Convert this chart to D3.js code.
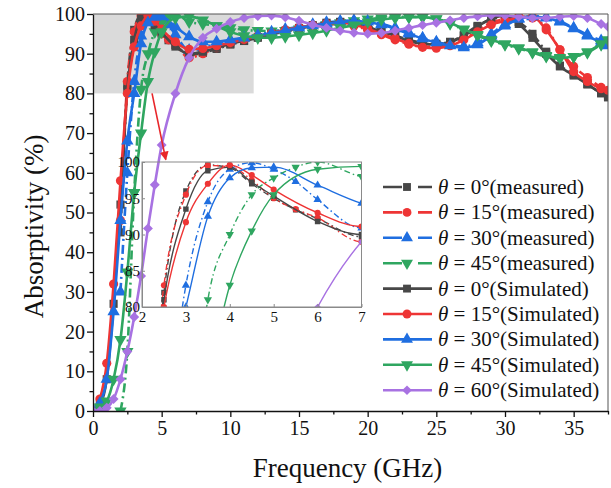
<!DOCTYPE html>
<html>
<head>
<meta charset="utf-8">
<script src="https://cdn.jsdelivr.net/npm/d3@7"></script>
<style>
  body { margin: 0; background: #fff; }
  svg { font-family: 'Liberation Serif', 'Times New Roman', serif; }
</style>
</head>
<body>
<svg id="chart" width="611" height="488"></svg>
<script>
// simulated curves, GHz
const freqSim = [0, 0.5, 1, 1.5, 2, 2.5, 3, 3.5, 4, 4.5, 5, 6, 7, 8, 9, 10, 11, 12, 13, 14, 15, 16, 17, 18, 19, 20,
  21, 22, 23, 24, 25, 26, 27, 28, 29, 30, 31, 32, 33, 34, 35, 36, 37, 37.5];
const sim0 = [0, 1.5, 8, 27, 52, 81, 93.5, 98.8, 99.3, 97.2, 95.3, 91.8, 90, 90.5, 91.5, 92.5, 93.3, 94.2, 95, 95.8, 96.5,
  97.2, 97.8, 98, 97.6, 96.8, 95.5, 94.5, 93.2, 92.5, 92.3, 92.8, 94.5, 96.8, 98.8, 99.6, 97.5, 94, 90, 86.8, 84.5, 82.3, 80, 79];
const sim15 = [0, 3, 12, 32, 58, 80, 91.7, 97, 99.6, 98.2, 96.2, 93, 91.1, 91.3, 92, 92.8, 93.6, 94.4, 95.2, 96, 96.6,
  97.2, 97.6, 97.8, 97.3, 96.3, 95, 93.8, 92.6, 91.6, 91.4, 92, 93.5, 95.5, 97.3, 98.3, 99, 99.3, 96, 91, 85.5, 83, 81.2, 80.8];
const sim30 = [0, 2, 8, 25, 48, 68, 80, 92.5, 97.8, 99.2, 99.3, 96.8, 94.3, 93, 93, 93.5, 94, 94.6, 95.2, 95.8, 96.5,
  97.1, 97.6, 98, 98.2, 98, 97.3, 96.3, 95, 93.8, 92.8, 92, 91.5, 92.3, 94.5, 97, 98.7, 99.3, 99, 98, 96.3, 94.5, 92.8, 92];
const sim45 = [0, 1, 2.5, 8, 18, 35, 55, 70, 83, 90.5, 95.5, 99, 99.4, 98.5, 97, 95.5, 94.5, 94, 94, 94.3, 94.7,
  95.2, 95.8, 96.5, 97.2, 98, 98.6, 99, 99.2, 99.2, 98.8, 97.8, 96.2, 94.8, 93.5, 92.5, 91.5, 90.5, 89.5, 89, 89.3, 90.5, 92.5, 93.5];
const sim60 = [0, 0, 0.8, 3, 8, 15, 23.7, 34, 46, 57, 67, 80, 89, 94, 96.3, 98, 99, 99.5, 99.6, 99.2, 98.3,
  97.3, 96.5, 95.8, 95.3, 95, 95.2, 95.8, 96.5, 97.2, 97.8, 98.4, 99, 99.4, 99.7, 99.6, 99.3, 99, 99, 99.3, 99.5, 99, 97.5, 96.8];

// measured curves, GHz
const freqMeas = [2, 2.5, 3, 3.5, 4, 4.5, 5, 5.5, 6, 7, 8, 9, 10, 11, 12, 13, 14, 15, 16, 17, 18, 19, 20,
  21, 22, 23, 24, 25, 26, 27, 28, 29, 30, 31, 32, 33, 34, 35, 36, 37, 37.5];
const meas0 = [45, 82, 96, 99.6, 99.2, 97, 95, 93.4, 92.2, 89.7, 90.2, 91.2, 92.3, 93.2, 94, 94.8, 95.6, 96.3, 97, 97.6, 98, 97.8, 97,
  95.8, 94.6, 93.5, 92.8, 92.5, 93, 94.8, 97, 98.7, 99.2, 98, 95, 90.5, 87, 84.8, 82.3, 80.2, 79.5];
const meas15 = [48, 83, 95.5, 99.5, 99.4, 97.5, 95, 93.5, 92.3, 89, 90, 91.5, 92.5, 93.5, 94.3, 95, 95.8, 96.4, 97, 97.3, 97.5, 97, 96,
  94.8, 93.5, 92.4, 91.8, 91.8, 92.5, 94, 96, 97.8, 98.8, 99.4, 99, 96.5, 91, 86.8, 84, 81.5, 80.5];
const meas30 = [30, 60, 83, 94.5, 99, 99.9, 99, 97.3, 94.8, 90.9, 91.5, 92.5, 93.3, 94, 94.8, 95.5, 96.2, 96.8, 97.4, 97.9, 98.2, 98.4, 98.2,
  97.5, 96.5, 95.3, 94, 93, 92.2, 91.8, 92.8, 95, 97.4, 98.9, 99.5, 99.2, 98.2, 96.5, 94.8, 93.3, 92.7];
const meas45 = [0, 15, 55, 81, 90, 95.5, 97.8, 99.3, 100, 98, 97.5, 97, 96.5, 96, 95.8, 95.7, 95.8, 96.2, 96.7, 97.3, 97.8, 98.3, 98.7,
  99, 99.2, 99.3, 99.2, 98.7, 97.6, 96, 94.5, 93.2, 92.3, 91.3, 90.3, 89.3, 88.8, 89.2, 90.3, 92.3, 93.3];

const xTicks = [0, 5, 10, 15, 20, 25, 30, 35];
const yTicks = [0, 10, 20, 30, 40, 50, 60, 70, 80, 90, 100];
const insetXTicks = [2, 3, 4, 5, 6, 7];
const insetYTicks = [80, 85, 90, 95, 100];

// shaded zoom window and arrow, in data units
const shadeX = [0, 11.7];
const shadeY = [80, 100];
const arrowFrom = [4.3, 80];
const arrowTo = [5.3, 63.3];

const colors = { a0: '#474747', a15: '#ee3535', a30: '#1f6ee0', a45: '#2fa660', a60: '#a872e2' };
const serif = "'Liberation Serif', 'Times New Roman', serif";

const series = [
  { label: '0°(measured)', freq: freqMeas, vals: meas0, color: colors.a0, shape: 'square', dashed: true },
  { label: '15°(measured)', freq: freqMeas, vals: meas15, color: colors.a15, shape: 'circle', dashed: true },
  { label: '30°(measured)', freq: freqMeas, vals: meas30, color: colors.a30, shape: 'up', dashed: true },
  { label: '45°(measured)', freq: freqMeas, vals: meas45, color: colors.a45, shape: 'down', dashed: true },
  { label: '0°(Simulated)', freq: freqSim, vals: sim0, color: colors.a0, shape: 'square', dashed: false },
  { label: '15°(Simulated)', freq: freqSim, vals: sim15, color: colors.a15, shape: 'circle', dashed: false },
  { label: '30°(Simulated)', freq: freqSim, vals: sim30, color: colors.a30, shape: 'up', dashed: false },
  { label: '45°(Simulated)', freq: freqSim, vals: sim45, color: colors.a45, shape: 'down', dashed: false },
  { label: '60°(Simulated)', freq: freqSim, vals: sim60, color: colors.a60, shape: 'diamond', dashed: false },
];

function symbolPath(shape, size) {
  if (shape === 'square') return d3.symbol(d3.symbolSquare, size)();
  if (shape === 'circle') return d3.symbol(d3.symbolCircle, size)();
  if (shape === 'up' || shape === 'down') return d3.symbol(d3.symbolTriangle, size)();
  return d3.symbol(d3.symbolSquare, size * 0.75)();
}
function symbolRot(shape) {
  if (shape === 'down') return ' rotate(180)';
  if (shape === 'diamond') return ' rotate(45)';
  return '';
}

const svg = d3.select('#chart');
const margin = { top: 14, right: 3, bottom: 77, left: 93 };
const width = 611 - margin.left - margin.right;
const height = 488 - margin.top - margin.bottom;

const x = d3.scaleLinear().domain([0, 37.5]).range([0, width]);
const y = d3.scaleLinear().domain([0, 100]).range([height, 0]);

const g = svg.append('g').attr('transform', `translate(${margin.left},${margin.top})`);

const defs = svg.append('defs');
defs.append('clipPath').attr('id', 'clipMain')
  .append('rect').attr('width', width).attr('height', height);

defs.append('marker').attr('id', 'arrowHead')
  .attr('viewBox', '0 0 10 10').attr('refX', 9).attr('refY', 5)
  .attr('markerWidth', 9).attr('markerHeight', 9).attr('markerUnits', 'userSpaceOnUse')
  .attr('orient', 'auto')
  .append('path').attr('d', 'M0,0 L10,5 L0,10 Z').attr('fill', '#e8262a');

// gray zoom window
g.append('rect')
  .attr('x', x(shadeX[0])).attr('y', y(shadeY[1]))
  .attr('width', x(shadeX[1]) - x(shadeX[0]))
  .attr('height', y(shadeY[0]) - y(shadeY[1]))
  .attr('fill', '#dadada');

function drawSeries(parent, xs, ys, opt) {
  const line = d3.line()
    .x((d) => xs(d[0]))
    .y((d) => ys(d[1]))
    .curve(d3.curveMonotoneX);
  series.forEach((s) => {
    const pts = s.freq.map((f, i) => [f, s.vals[i]]);
    parent.append('path')
      .datum(pts)
      .attr('d', line)
      .attr('fill', 'none')
      .attr('stroke', s.color)
      .attr('stroke-width', opt.lw)
      .attr('stroke-dasharray', s.dashed ? opt.dash : null);
    const dom = xs.domain();
    const ydom = ys.domain();
    parent.selectAll(null)
      .data(pts.filter((p) => p[0] >= dom[0] && p[0] <= dom[1] && p[1] >= ydom[0] - 1))
      .enter()
      .append('path')
      .attr('d', symbolPath(s.shape, opt.size))
      .attr('transform', (d) => `translate(${xs(d[0])},${ys(d[1])})` + symbolRot(s.shape))
      .attr('fill', s.color);
  });
}

const plot = g.append('g').attr('clip-path', 'url(#clipMain)');
drawSeries(plot, x, y, { lw: 2.6, dash: '9,4,2,4', size: 66 });

// axes
g.append('g').attr('transform', `translate(0,${height})`)
  .call(d3.axisBottom(x).tickValues(xTicks).tickFormat(d3.format('d')).tickSize(6).tickSizeOuter(0).tickPadding(4));
g.append('g').attr('transform', `translate(0,${height})`)
  .call(d3.axisBottom(x).tickValues(xTicks.map((t) => t + 2.5)).tickFormat('').tickSize(3.5).tickSizeOuter(0))
  .select('.domain').remove();
g.append('g')
  .call(d3.axisLeft(y).tickValues(yTicks).tickFormat(d3.format('d')).tickSize(6).tickSizeOuter(0).tickPadding(2));
g.append('g')
  .call(d3.axisLeft(y).tickValues(yTicks.slice(0, -1).map((t) => t + 5)).tickFormat('').tickSize(3.5).tickSizeOuter(0))
  .select('.domain').remove();

g.selectAll('.tick text').attr('font-size', 20).attr('fill', '#111').attr('font-family', serif);
g.selectAll('.domain, .tick line').attr('stroke', '#111').attr('stroke-width', 1.3);

// top and right frame
g.append('path')
  .attr('d', `M0,0 H${width} V${height}`)
  .attr('fill', 'none').attr('stroke', '#555').attr('stroke-width', 1);

// arrow to inset
g.append('line')
  .attr('x1', x(arrowFrom[0])).attr('y1', y(arrowFrom[1]))
  .attr('x2', x(arrowTo[0])).attr('y2', y(arrowTo[1]))
  .attr('stroke', '#e8262a').attr('stroke-width', 1.6)
  .attr('marker-end', 'url(#arrowHead)');

// inset
const inset = { left: 49, top: 148, width: 219.5, height: 145 };
const xi = d3.scaleLinear().domain([2, 7]).range([0, inset.width]);
const yi = d3.scaleLinear().domain([80, 100]).range([inset.height, 0]);
const gi = g.append('g').attr('transform', `translate(${inset.left},${inset.top})`);
defs.append('clipPath').attr('id', 'clipInset')
  .append('rect').attr('width', inset.width).attr('height', inset.height);
const insetPlot = gi.append('g').attr('clip-path', 'url(#clipInset)');
drawSeries(insetPlot, xi, yi, { lw: 1.4, dash: '6,3,1.5,3', size: 30 });

gi.append('rect').attr('width', inset.width).attr('height', inset.height)
  .attr('fill', 'none').attr('stroke', '#8a8a8a').attr('stroke-width', 1);
gi.append('g').attr('transform', `translate(0,${inset.height})`)
  .call(d3.axisBottom(xi).tickValues(insetXTicks).tickFormat(d3.format('d')).tickSize(-3).tickSizeOuter(0).tickPadding(4));
gi.append('g')
  .call(d3.axisLeft(yi).tickValues(insetYTicks).tickFormat(d3.format('d')).tickSize(-3).tickSizeOuter(0).tickPadding(2));
gi.selectAll('.tick text').attr('font-size', 15).attr('fill', '#111').attr('font-family', serif);
gi.selectAll('.domain').attr('stroke', '#8a8a8a');
gi.selectAll('.tick line').attr('stroke', '#8a8a8a');

// axis titles
svg.append('text')
  .attr('x', margin.left + width / 2 - 3).attr('y', 477)
  .attr('text-anchor', 'middle').attr('font-size', 27).attr('fill', '#111')
  .attr('font-family', serif)
  .text('Frequency (GHz)');
svg.append('text')
  .attr('transform', `translate(43,${margin.top + height / 2 + 14}) rotate(-90)`)
  .attr('text-anchor', 'middle').attr('font-size', 27).attr('fill', '#111')
  .attr('font-family', serif)
  .text('Absorptivity (%)');

// legend
const legend = svg.append('g');
series.forEach((s, i) => {
  const row = legend.append('g').attr('transform', `translate(383,${187 + i * 25.4})`);
  row.append('line')
    .attr('x1', 0).attr('x2', 49).attr('y1', 0).attr('y2', 0)
    .attr('stroke', s.color).attr('stroke-width', 2.6)
    .attr('stroke-dasharray', s.dashed ? '19,16,14' : null);
  row.append('path')
    .attr('d', symbolPath(s.shape, 62))
    .attr('transform', 'translate(24,0)' + symbolRot(s.shape))
    .attr('fill', s.color);
  const t = row.append('text').attr('x', 55).attr('y', 7).attr('font-size', 21)
    .attr('fill', '#111').attr('font-family', serif);
  t.append('tspan').attr('font-style', 'italic').text('θ');
  t.append('tspan').text(' = ' + s.label);
});
</script>
</body>
</html>
